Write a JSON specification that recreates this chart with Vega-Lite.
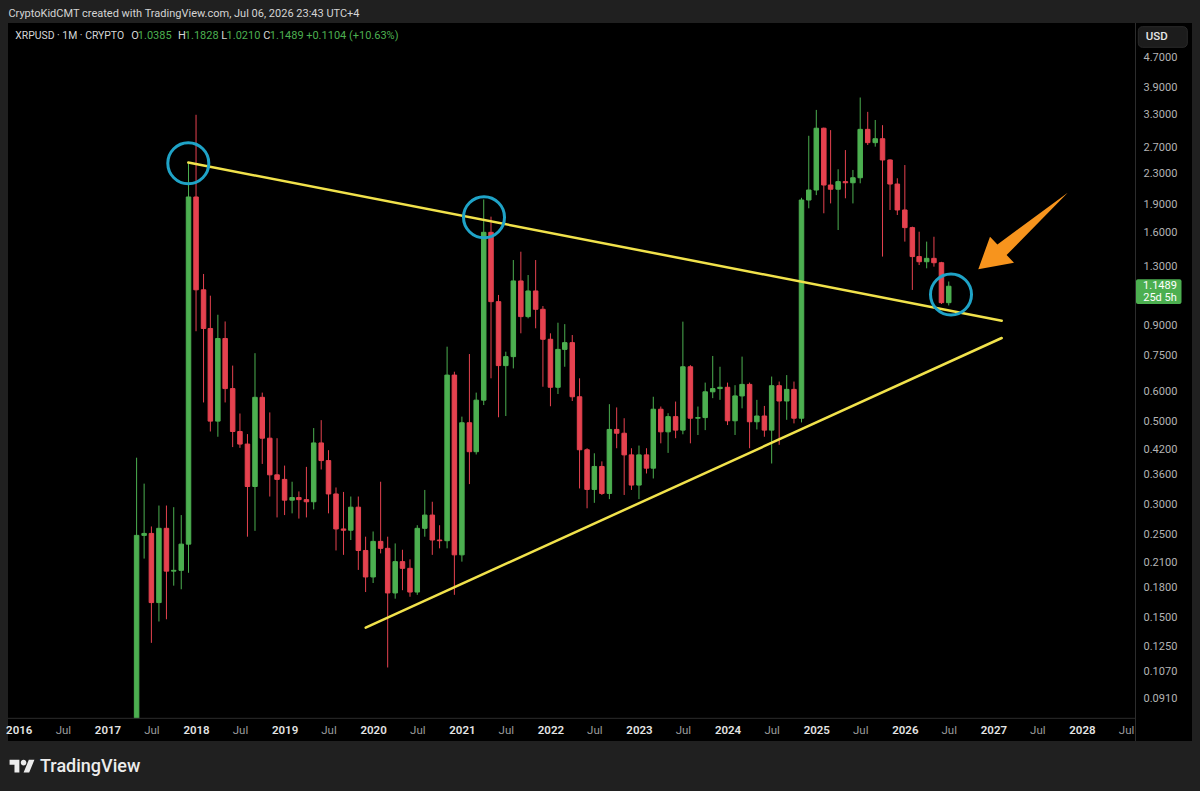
{
  "$schema": "https://vega.github.io/schema/vega-lite/v6.json",
  "width": 1184,
  "height": 718,
  "autosize": {"type": "none"},
  "padding": {"left": 8, "top": 23, "right": 8, "bottom": 50},
  "background": "#202020",
  "config": {
    "view": {"fill": "#000000", "stroke": null},
    "text": {"font": "Roboto"},
    "axis": {"labelFont": "Roboto"},
    "scale": {"continuousPadding": 0}
  },
  "datasets": {
    "candles": [
      {"date": "2017-05-01", "open": 0.054, "high": 0.400, "low": 0.054, "close": 0.248},
      {"date": "2017-06-01", "open": 0.248, "high": 0.341, "low": 0.215, "close": 0.251},
      {"date": "2017-07-01", "open": 0.251, "high": 0.262, "low": 0.128, "close": 0.164},
      {"date": "2017-08-01", "open": 0.164, "high": 0.298, "low": 0.146, "close": 0.259},
      {"date": "2017-09-01", "open": 0.259, "high": 0.298, "low": 0.148, "close": 0.199},
      {"date": "2017-10-01", "open": 0.199, "high": 0.295, "low": 0.182, "close": 0.200},
      {"date": "2017-11-01", "open": 0.200, "high": 0.281, "low": 0.178, "close": 0.235},
      {"date": "2017-12-01", "open": 0.235, "high": 2.46, "low": 0.197, "close": 1.99},
      {"date": "2018-01-01", "open": 1.99, "high": 3.30, "low": 0.871, "close": 1.124},
      {"date": "2018-02-01", "open": 1.124, "high": 1.239, "low": 0.562, "close": 0.886},
      {"date": "2018-03-01", "open": 0.886, "high": 1.084, "low": 0.470, "close": 0.501},
      {"date": "2018-04-01", "open": 0.501, "high": 0.964, "low": 0.455, "close": 0.833},
      {"date": "2018-05-01", "open": 0.833, "high": 0.925, "low": 0.562, "close": 0.612},
      {"date": "2018-06-01", "open": 0.612, "high": 0.705, "low": 0.427, "close": 0.470},
      {"date": "2018-07-01", "open": 0.470, "high": 0.525, "low": 0.425, "close": 0.435},
      {"date": "2018-08-01", "open": 0.435, "high": 0.4625, "low": 0.246, "close": 0.335},
      {"date": "2018-09-01", "open": 0.335, "high": 0.761, "low": 0.255, "close": 0.580},
      {"date": "2018-10-01", "open": 0.580, "high": 0.597, "low": 0.385, "close": 0.451},
      {"date": "2018-11-01", "open": 0.451, "high": 0.5285, "low": 0.315, "close": 0.360},
      {"date": "2018-12-01", "open": 0.360, "high": 0.451, "low": 0.277, "close": 0.350},
      {"date": "2019-01-01", "open": 0.350, "high": 0.381, "low": 0.281, "close": 0.308},
      {"date": "2019-02-01", "open": 0.308, "high": 0.345, "low": 0.284, "close": 0.313},
      {"date": "2019-03-01", "open": 0.313, "high": 0.325, "low": 0.275, "close": 0.309},
      {"date": "2019-04-01", "open": 0.309, "high": 0.378, "low": 0.277, "close": 0.305},
      {"date": "2019-05-01", "open": 0.305, "high": 0.480, "low": 0.291, "close": 0.438},
      {"date": "2019-06-01", "open": 0.438, "high": 0.504, "low": 0.372, "close": 0.393},
      {"date": "2019-07-01", "open": 0.393, "high": 0.419, "low": 0.284, "close": 0.320},
      {"date": "2019-08-01", "open": 0.320, "high": 0.333, "low": 0.226, "close": 0.258},
      {"date": "2019-09-01", "open": 0.258, "high": 0.324, "low": 0.220, "close": 0.256},
      {"date": "2019-10-01", "open": 0.256, "high": 0.315, "low": 0.241, "close": 0.295},
      {"date": "2019-11-01", "open": 0.295, "high": 0.315, "low": 0.2005, "close": 0.226},
      {"date": "2019-12-01", "open": 0.226, "high": 0.246, "low": 0.175, "close": 0.192},
      {"date": "2020-01-01", "open": 0.192, "high": 0.254, "low": 0.185, "close": 0.239},
      {"date": "2020-02-01", "open": 0.239, "high": 0.345, "low": 0.222, "close": 0.229},
      {"date": "2020-03-01", "open": 0.229, "high": 0.246, "low": 0.110, "close": 0.174},
      {"date": "2020-04-01", "open": 0.174, "high": 0.236, "low": 0.168, "close": 0.211},
      {"date": "2020-05-01", "open": 0.211, "high": 0.227, "low": 0.177, "close": 0.2025},
      {"date": "2020-06-01", "open": 0.2025, "high": 0.214, "low": 0.170, "close": 0.175},
      {"date": "2020-07-01", "open": 0.175, "high": 0.264, "low": 0.172, "close": 0.259},
      {"date": "2020-08-01", "open": 0.259, "high": 0.328, "low": 0.246, "close": 0.281},
      {"date": "2020-09-01", "open": 0.281, "high": 0.305, "low": 0.220, "close": 0.241},
      {"date": "2020-10-01", "open": 0.241, "high": 0.264, "low": 0.229, "close": 0.240},
      {"date": "2020-11-01", "open": 0.240, "high": 0.792, "low": 0.229, "close": 0.665},
      {"date": "2020-12-01", "open": 0.665, "high": 0.679, "low": 0.172, "close": 0.220},
      {"date": "2021-01-01", "open": 0.220, "high": 0.515, "low": 0.211, "close": 0.496},
      {"date": "2021-02-01", "open": 0.496, "high": 0.757, "low": 0.340, "close": 0.415},
      {"date": "2021-03-01", "open": 0.415, "high": 0.597, "low": 0.408, "close": 0.570},
      {"date": "2021-04-01", "open": 0.570, "high": 1.96, "low": 0.553, "close": 1.601},
      {"date": "2021-05-01", "open": 1.601, "high": 1.763, "low": 0.652, "close": 1.045},
      {"date": "2021-06-01", "open": 1.045, "high": 1.089, "low": 0.513, "close": 0.705},
      {"date": "2021-07-01", "open": 0.705, "high": 0.768, "low": 0.517, "close": 0.745},
      {"date": "2021-08-01", "open": 0.745, "high": 1.350, "low": 0.693, "close": 1.187},
      {"date": "2021-09-01", "open": 1.187, "high": 1.421, "low": 0.860, "close": 0.953},
      {"date": "2021-10-01", "open": 0.953, "high": 1.231, "low": 0.943, "close": 1.116},
      {"date": "2021-11-01", "open": 1.116, "high": 1.350, "low": 0.887, "close": 0.997},
      {"date": "2021-12-01", "open": 0.997, "high": 1.017, "low": 0.619, "close": 0.829},
      {"date": "2022-01-01", "open": 0.829, "high": 0.860, "low": 0.549, "close": 0.617},
      {"date": "2022-02-01", "open": 0.617, "high": 0.918, "low": 0.592, "close": 0.779},
      {"date": "2022-03-01", "open": 0.779, "high": 0.910, "low": 0.700, "close": 0.812},
      {"date": "2022-04-01", "open": 0.812, "high": 0.851, "low": 0.567, "close": 0.582},
      {"date": "2022-05-01", "open": 0.582, "high": 0.652, "low": 0.331, "close": 0.420},
      {"date": "2022-06-01", "open": 0.420, "high": 0.424, "low": 0.293, "close": 0.329},
      {"date": "2022-07-01", "open": 0.329, "high": 0.411, "low": 0.303, "close": 0.379},
      {"date": "2022-08-01", "open": 0.379, "high": 0.391, "low": 0.318, "close": 0.321},
      {"date": "2022-09-01", "open": 0.321, "high": 0.556, "low": 0.310, "close": 0.476},
      {"date": "2022-10-01", "open": 0.476, "high": 0.545, "low": 0.424, "close": 0.465},
      {"date": "2022-11-01", "open": 0.465, "high": 0.510, "low": 0.318, "close": 0.407},
      {"date": "2022-12-01", "open": 0.407, "high": 0.424, "low": 0.328, "close": 0.338},
      {"date": "2023-01-01", "open": 0.338, "high": 0.431, "low": 0.310, "close": 0.407},
      {"date": "2023-02-01", "open": 0.407, "high": 0.424, "low": 0.363, "close": 0.375},
      {"date": "2023-03-01", "open": 0.375, "high": 0.582, "low": 0.352, "close": 0.539},
      {"date": "2023-04-01", "open": 0.539, "high": 0.548, "low": 0.437, "close": 0.469},
      {"date": "2023-05-01", "open": 0.469, "high": 0.526, "low": 0.412, "close": 0.515},
      {"date": "2023-06-01", "open": 0.515, "high": 0.565, "low": 0.451, "close": 0.474},
      {"date": "2023-07-01", "open": 0.474, "high": 0.924, "low": 0.462, "close": 0.700},
      {"date": "2023-08-01", "open": 0.700, "high": 0.707, "low": 0.437, "close": 0.510},
      {"date": "2023-09-01", "open": 0.510, "high": 0.548, "low": 0.460, "close": 0.512},
      {"date": "2023-10-01", "open": 0.512, "high": 0.635, "low": 0.474, "close": 0.600},
      {"date": "2023-11-01", "open": 0.600, "high": 0.748, "low": 0.577, "close": 0.612},
      {"date": "2023-12-01", "open": 0.612, "high": 0.700, "low": 0.571, "close": 0.617},
      {"date": "2024-01-01", "open": 0.617, "high": 0.635, "low": 0.489, "close": 0.502},
      {"date": "2024-02-01", "open": 0.502, "high": 0.625, "low": 0.460, "close": 0.585},
      {"date": "2024-03-01", "open": 0.585, "high": 0.745, "low": 0.542, "close": 0.628},
      {"date": "2024-04-01", "open": 0.628, "high": 0.635, "low": 0.424, "close": 0.499},
      {"date": "2024-05-01", "open": 0.499, "high": 0.571, "low": 0.476, "close": 0.517},
      {"date": "2024-06-01", "open": 0.517, "high": 0.550, "low": 0.455, "close": 0.474},
      {"date": "2024-07-01", "open": 0.474, "high": 0.659, "low": 0.386, "close": 0.623},
      {"date": "2024-08-01", "open": 0.623, "high": 0.639, "low": 0.433, "close": 0.567},
      {"date": "2024-09-01", "open": 0.567, "high": 0.665, "low": 0.505, "close": 0.609},
      {"date": "2024-10-01", "open": 0.609, "high": 0.639, "low": 0.494, "close": 0.510},
      {"date": "2024-11-01", "open": 0.510, "high": 1.98, "low": 0.497, "close": 1.953},
      {"date": "2024-12-01", "open": 1.953, "high": 2.90, "low": 1.856, "close": 2.077},
      {"date": "2025-01-01", "open": 2.077, "high": 3.40, "low": 2.013, "close": 3.038},
      {"date": "2025-02-01", "open": 3.038, "high": 3.05, "low": 1.80, "close": 2.142},
      {"date": "2025-03-01", "open": 2.142, "high": 3.003, "low": 1.913, "close": 2.087},
      {"date": "2025-04-01", "open": 2.087, "high": 2.36, "low": 1.624, "close": 2.187},
      {"date": "2025-05-01", "open": 2.187, "high": 2.656, "low": 1.974, "close": 2.172},
      {"date": "2025-06-01", "open": 2.172, "high": 2.35, "low": 1.913, "close": 2.24},
      {"date": "2025-07-01", "open": 2.24, "high": 3.67, "low": 2.165, "close": 3.017},
      {"date": "2025-08-01", "open": 3.017, "high": 3.36, "low": 2.74, "close": 2.78},
      {"date": "2025-09-01", "open": 2.78, "high": 3.196, "low": 2.712, "close": 2.848},
      {"date": "2025-10-01", "open": 2.848, "high": 3.096, "low": 1.379, "close": 2.499},
      {"date": "2025-11-01", "open": 2.499, "high": 2.508, "low": 1.837, "close": 2.155},
      {"date": "2025-12-01", "open": 2.155, "high": 2.233, "low": 1.781, "close": 1.837},
      {"date": "2026-01-01", "open": 1.837, "high": 2.422, "low": 1.512, "close": 1.648},
      {"date": "2026-02-01", "open": 1.648, "high": 1.658, "low": 1.123, "close": 1.379},
      {"date": "2026-03-01", "open": 1.379, "high": 1.607, "low": 1.309, "close": 1.336},
      {"date": "2026-04-01", "open": 1.336, "high": 1.512, "low": 1.283, "close": 1.364},
      {"date": "2026-05-01", "open": 1.364, "high": 1.558, "low": 1.296, "close": 1.328},
      {"date": "2026-06-01", "open": 1.328, "high": 1.335, "low": 1.030, "close": 1.0385},
      {"date": "2026-07-01", "open": 1.0385, "high": 1.1828, "low": 1.0210, "close": 1.1489}
    ],
    "trend": [
      {"line": "upper", "date": 1512008191430, "price": 2.4603},
      {"line": "upper", "date": 1801725480895, "price": 0.9294},
      {"line": "lower", "date": 1575194627563, "price": 0.14052},
      {"line": "lower", "date": 1801725480895, "price": 0.83553}
    ],
    "circles": [
      {"date": 1512008191430, "price": 2.4482},
      {"date": 1617330791006, "price": 1.7561},
      {"date": 1783667125135, "price": 1.0920}
    ]
  },
  "layer": [
    {
      "data": {"name": "candles"},
      "mark": {"type": "rule", "strokeWidth": 1, "clip": true},
      "encoding": {
        "x": {
          "field": "date", "type": "temporal",
          "scale": {"type": "utc", "domain": [1447788831593, 1869506646602], "nice": false, "padding": 0},
          "axis": {
            "title": null, "orient": "bottom", "offset": -11,
            "values": [1451606400000,1467331200000,1483228800000,1498867200000,1514764800000,1530403200000,1546300800000,1561939200000,1577836800000,1593561600000,1609459200000,1625097600000,1640995200000,1656633600000,1672531200000,1688169600000,1704067200000,1719792000000,1735689600000,1751328000000,1767225600000,1782864000000,1798761600000,1814400000000,1830297600000,1846022400000],
            "labelExpr": "utcmonth(datum.value) == 0 ? utcFormat(datum.value, '%Y') : 'Jul'",
            "domain": false, "ticks": false, "grid": false,
            "labelPadding": 0, "labelBaseline": "middle", "labelFontSize": 11.5,
            "labelColor": {"condition": {"test": "utcmonth(datum.value) == 6", "value": "#9c9c9c"}, "value": "#e4e4e4"},
            "labelFontWeight": {"condition": {"test": "utcmonth(datum.value) == 6", "value": 400}, "value": 600},
            "labelOverlap": false, "labelBound": false, "labelFlush": false, "zindex": 1
          }
        },
        "y": {
          "field": "low", "type": "quantitative",
          "scale": {"type": "log", "domain": [0.06997, 5.80529], "nice": false},
          "axis": {
            "title": null, "orient": "right", "offset": -49,
            "values": [4.7,3.9,3.3,2.7,2.3,1.9,1.6,1.3,0.9,0.75,0.6,0.5,0.42,0.36,0.3,0.25,0.21,0.18,0.15,0.125,0.107,0.091],
            "format": ".4f", "domain": false, "ticks": false, "grid": false,
            "labelPadding": 0, "labelAlign": "left", "labelBaseline": "middle",
            "labelFontSize": 11, "labelColor": "#b4b4b4",
            "labelOverlap": false, "labelBound": false, "zindex": 1
          }
        },
        "y2": {"field": "high"},
        "color": {"condition": {"test": "datum.close >= datum.open", "value": "#4caf50"}, "value": "#e5424f"}
      }
    },
    {
      "data": {"name": "candles"},
      "mark": {"type": "bar", "width": 4.5, "strokeWidth": 1, "clip": true},
      "encoding": {
        "x": {"field": "date", "type": "temporal", "title": null, "scale": {"type": "utc", "domain": [1447788831593, 1869506646602], "nice": false, "padding": 0}},
        "y": {"field": "open", "type": "quantitative", "title": null, "scale": {"type": "log", "domain": [0.06997, 5.80529], "nice": false}},
        "y2": {"field": "close"},
        "color": {"condition": {"test": "datum.close >= datum.open", "value": "#4caf50"}, "value": "#e5424f"},
        "stroke": {"condition": {"test": "datum.close >= datum.open", "value": "#4caf50"}, "value": "#e5424f"}
      }
    },
    {
      "data": {"values": [{}]},
      "mark": {"type": "rect", "fill": "#000000"},
      "encoding": {
        "x": {"datum": 1447788831593, "type": "temporal", "title": null},
        "x2": {"datum": 1869506646602},
        "y": {"datum": 0.08046, "type": "quantitative", "title": null},
        "y2": {"datum": 0.06997}
      }
    },
    {
      "data": {"values": [{}]},
      "mark": {"type": "rule", "color": "#2c2c2c", "strokeWidth": 1},
      "encoding": {
        "x": {"datum": 1849382443436, "type": "temporal", "title": null}
      }
    },
    {
      "data": {"values": [{}]},
      "mark": {"type": "rule", "color": "#2c2c2c", "strokeWidth": 1},
      "encoding": {
        "x": {"datum": 1447788831593, "type": "temporal", "title": null},
        "x2": {"datum": 1849382443436},
        "y": {"datum": 0.08046, "type": "quantitative", "title": null}
      }
    },
    {
      "data": {"name": "trend"},
      "mark": {"type": "line", "color": "#f1e24b", "strokeWidth": 2.5, "strokeCap": "round"},
      "encoding": {
        "x": {"field": "date", "type": "temporal", "title": null},
        "y": {"field": "price", "type": "quantitative", "title": null},
        "detail": {"field": "line"}
      }
    },
    {
      "data": {"name": "circles"},
      "mark": {"type": "point", "shape": "circle", "filled": false, "size": 1681, "stroke": "#1fa3c7", "strokeWidth": 3, "opacity": 1},
      "encoding": {
        "x": {"field": "date", "type": "temporal", "title": null},
        "y": {"field": "price", "type": "quantitative", "title": null}
      }
    },
    {
      "data": {"values": [{}]},
      "mark": {"type": "point", "shape": "M0.9933,-0.8511L-0.3644,0.5333L-0.2,0.7044L-0.9933,0.8511L-0.7333,0.1267L-0.5689,0.2978Z", "filled": true, "fill": "#f7941d", "size": 8100, "opacity": 1, "strokeWidth": 0},
      "encoding": {
        "x": {"datum": 1809312127399, "type": "temporal", "title": null},
        "y": {"datum": 1.6141, "type": "quantitative", "title": null}
      }
    },
    {
      "data": {"values": [{}]},
      "mark": {"type": "text", "text": "CryptoKidCMT created with TradingView.com, Jul 06, 2026 23:43 UTC+4", "align": "left", "baseline": "alphabetic", "fontSize": 11, "color": "#d4d4d4"},
      "encoding": {
        "x": {"datum": 1447931303828, "type": "temporal", "title": null},
        "y": {"datum": 6.0125, "type": "quantitative", "title": null}
      }
    },
    {
      "data": {"values": [{}]},
      "encoding": {
        "x": {"datum": 1450388949879, "type": "temporal", "title": null},
        "y": {"datum": 5.2614, "type": "quantitative", "title": null}
      },
      "layer": [
        {"mark": {"type": "text", "text": "XRPUSD · 1M · CRYPTO", "dx": 0, "align": "left", "baseline": "alphabetic", "fontSize": 10.4, "color": "#d6d6d6"}},
        {"mark": {"type": "text", "text": "O", "dx": 116, "align": "left", "baseline": "alphabetic", "fontSize": 11, "color": "#d6d6d6"}},
        {"mark": {"type": "text", "text": "1.0385", "dx": 122.5, "align": "left", "baseline": "alphabetic", "fontSize": 11, "color": "#4caf50"}},
        {"mark": {"type": "text", "text": "H", "dx": 162.7, "align": "left", "baseline": "alphabetic", "fontSize": 11, "color": "#d6d6d6"}},
        {"mark": {"type": "text", "text": "1.1828", "dx": 169.5, "align": "left", "baseline": "alphabetic", "fontSize": 11, "color": "#4caf50"}},
        {"mark": {"type": "text", "text": "L", "dx": 205.9, "align": "left", "baseline": "alphabetic", "fontSize": 11, "color": "#d6d6d6"}},
        {"mark": {"type": "text", "text": "1.0210", "dx": 211.3, "align": "left", "baseline": "alphabetic", "fontSize": 11, "color": "#4caf50"}},
        {"mark": {"type": "text", "text": "C", "dx": 248, "align": "left", "baseline": "alphabetic", "fontSize": 11, "color": "#d6d6d6"}},
        {"mark": {"type": "text", "text": "1.1489", "dx": 254.5, "align": "left", "baseline": "alphabetic", "fontSize": 11, "color": "#4caf50"}},
        {"mark": {"type": "text", "text": "+0.1104 (+10.63%)", "dx": 290.9, "align": "left", "baseline": "alphabetic", "fontSize": 11, "color": "#4caf50"}}
      ]
    },
    {
      "data": {"values": [{}]},
      "mark": {"type": "rect", "fill": "#1c1c1c", "stroke": "#2a2a2a", "strokeWidth": 1, "cornerRadius": 4},
      "encoding": {
        "x": {"datum": 1850379749080, "type": "temporal", "title": null},
        "x2": {"datum": 1867832597843},
        "y": {"datum": 5.675, "type": "quantitative", "title": null},
        "y2": {"datum": 4.999}
      }
    },
    {
      "data": {"values": [{}]},
      "mark": {"type": "text", "text": "USD", "align": "center", "baseline": "middle", "fontSize": 11.5, "fontWeight": 500, "color": "#e6e6e6"},
      "encoding": {
        "x": {"datum": 1856933471881, "type": "temporal", "title": null},
        "y": {"datum": 5.326, "type": "quantitative", "title": null}
      }
    },
    {
      "data": {"values": [{}]},
      "mark": {"type": "rect", "fill": "#4caf50", "cornerRadius": 2},
      "encoding": {
        "x": {"datum": 1849560533730, "type": "temporal", "title": null},
        "x2": {"datum": 1865766750438},
        "y": {"datum": 1.199, "type": "quantitative", "title": null},
        "y2": {"datum": 1.030}
      }
    },
    {
      "data": {"values": [{}]},
      "encoding": {
        "x": {"datum": 1858108867818, "type": "temporal", "title": null},
        "y": {"datum": 1.1489, "type": "quantitative", "title": null}
      },
      "layer": [
        {"mark": {"type": "text", "text": "1.1489", "align": "center", "baseline": "middle", "fontSize": 11, "color": "#ffffff"}},
        {"mark": {"type": "text", "text": "25d 5h", "dy": 11.5, "align": "center", "baseline": "middle", "fontSize": 11, "color": "#ffffff"}}
      ]
    },
    {
      "data": {"values": [{}]},
      "mark": {"type": "point", "shape": "M-0.2083,0.5L-0.5972,0.5L-0.5972,-0.1111L-0.9861,-0.1111L-0.9861,-0.5L-0.2083,-0.5Z M0.5694,0.5L0.125,0.5L0.5417,-0.5L0.9861,-0.5Z M-0.0972,-0.2778A0.2222,0.2222,0,1,0,0.3472,-0.2778A0.2222,0.2222,0,1,0,-0.0972,-0.2778Z", "filled": true, "fill": "#ececec", "size": 635, "opacity": 1, "strokeWidth": 0},
      "encoding": {
        "x": {"datum": 1452775359812, "type": "temporal", "title": null},
        "y": {"datum": 0.05994, "type": "quantitative", "title": null}
      }
    },
    {
      "data": {"values": [{}]},
      "mark": {"type": "text", "text": "TradingView", "align": "left", "baseline": "alphabetic", "fontSize": 18, "fontWeight": 500, "color": "#ececec"},
      "encoding": {
        "x": {"datum": 1459186610378, "type": "temporal", "title": null},
        "y": {"datum": 0.05771, "type": "quantitative", "title": null}
      }
    }
  ]
}
